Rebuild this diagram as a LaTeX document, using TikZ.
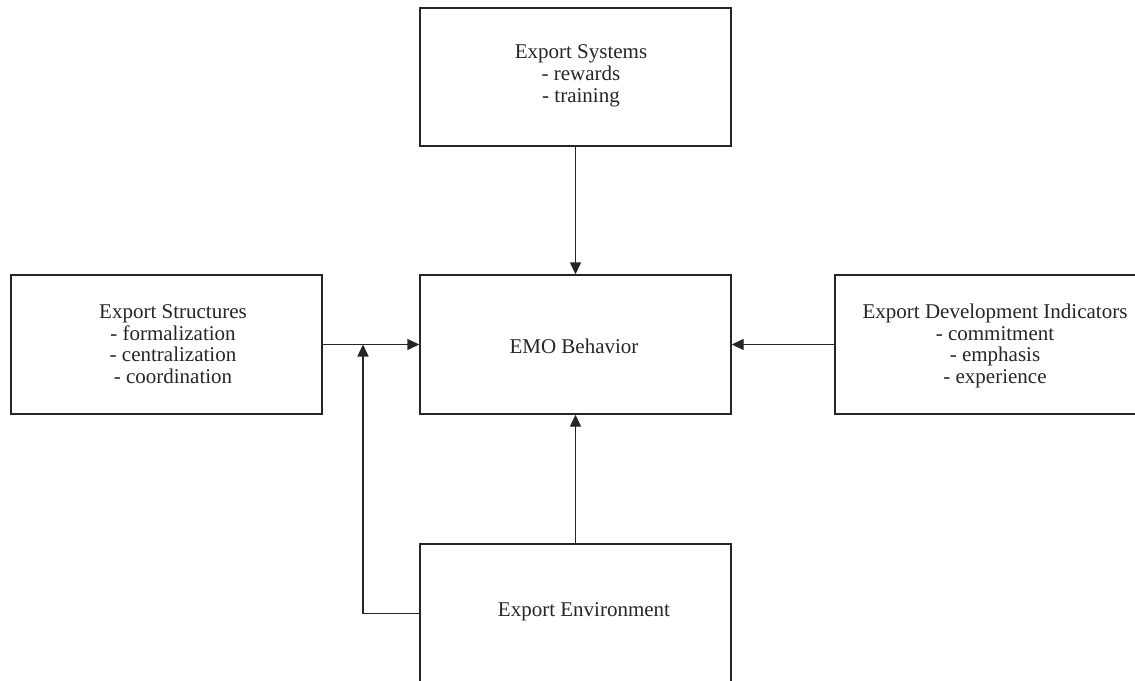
\documentclass[tikz,border=0pt]{standalone}
\usepackage{fontspec}
\setmainfont{Liberation Serif}
\usetikzlibrary{arrows.meta}
\tikzset{
  box/.style={draw=black!85, line width=1.4pt, rectangle, inner sep=0pt},
  lbl/.style={align=center, inner sep=0pt, font=\fontsize{21}{21.7}\selectfont, text=black!85},
  conn/.style={draw=black!85, line width=1.4pt},
  arr/.style={conn, -{Triangle[length=12pt,width=11pt]}}
}
\begin{document}
\begin{tikzpicture}[x=1pt,y=-1pt]
\useasboundingbox (0,0) rectangle (1135,680);
\clip (0,0) rectangle (1135,680);
\fill[white] (0,0) rectangle (1135,680);
% boxes
\node[box, minimum width=311pt, minimum height=138pt] (sys) at (575.5,77) {};
\node[box, minimum width=311pt, minimum height=139pt] (str) at (166.5,344.5) {};
\node[box, minimum width=311pt, minimum height=139pt] (emo) at (575.5,344.5) {};
\node[box, minimum width=317pt, minimum height=139pt] (dev) at (993.5,344.5) {};
\node[box, minimum width=311pt, minimum height=139pt] (env) at (575.5,613.5) {};
% labels
\node[lbl] (sysT) at (581,76) {Export Systems\\- rewards\\- training};
\node[lbl] (strT) at (173,344) {Export Structures\\- formalization\\- centralization\\- coordination};
\node[lbl] (emoT) at (574,346) {EMO Behavior};
\node[lbl] (devT) at (995,346) {Export Development Indicators\\- commitment\\- emphasis\\- experience};
\node[lbl] (envT) at (584,612) {Export Environment};
% connectors
\coordinate (j) at (363,344.5);
\draw[arr] (sys.south) -- (emo.north);
\draw[arr] (str.east) -- (emo.west);
\draw[arr] (dev.west) -- (emo.east);
\draw[arr] (env.north) -- (emo.south);
\draw[arr] (env.west) -| (j);
\end{tikzpicture}
\end{document}
